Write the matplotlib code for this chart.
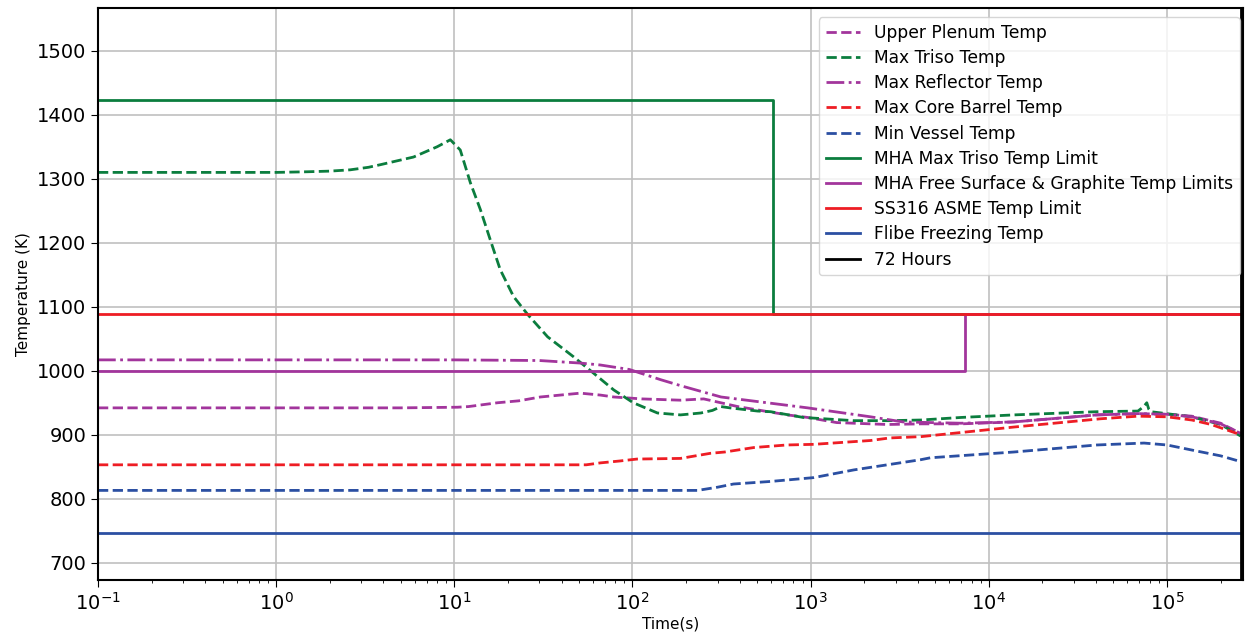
import matplotlib
matplotlib.use('Agg')
import matplotlib.pyplot as plt

# Colores de las curvas
GREEN = '#0b7d3e'
PURPLE = '#a2359c'
RED = '#ee1d24'
BLUE = '#2b4fa2'

# Datos (tiempo en s, temperatura en K)
plenum_t = [0.1, 1, 5, 10.4, 12, 17.5, 23, 30.4, 51, 66, 78.5, 113, 186, 251, 390, 430,
            740, 962, 1400, 2700, 4150, 6970, 13800, 40400, 68700, 100000, 138000, 200000, 259200]
plenum_T = [942, 942, 942, 943, 944, 950, 953, 959, 965, 962, 959, 956, 954, 956, 944, 942,
            931, 927, 919, 916, 917, 917, 920, 931, 933, 932, 929, 918, 902]

triso_t = [0.1, 1, 1.5, 2, 2.6, 3.3, 3.84, 5.9, 8.0, 9.5, 10.8, 12.3, 14.0, 15.9, 18.1, 21.5, 25.8,
           33.4, 46.6, 60, 78.5, 101, 138, 186, 242, 281, 314, 352, 504, 596, 910, 1745, 2780,
           4150, 6970, 13800, 40400, 68700, 74000, 77000, 79000, 81300, 138000, 200000, 259200]
triso_T = [1310, 1310, 1311, 1312, 1314, 1318, 1322, 1334, 1350, 1361, 1345, 1294, 1252, 1205, 1158,
           1116, 1088, 1053, 1022, 997, 970, 950, 934, 931, 934, 938, 944, 942, 937, 936, 927, 922,
           922, 923, 927, 931, 936, 937, 944, 950, 940, 936, 928, 916, 898]

refl_t = [0.1, 1, 10, 30, 51, 66, 96, 144, 190, 314, 962, 2170, 3300, 6970, 13800, 40400,
          68700, 100000, 138000, 200000, 259200]
refl_T = [1017, 1017, 1017, 1016, 1012, 1009, 1002, 986, 976, 959, 942, 928, 920, 918, 920, 931,
          933, 932, 928, 917, 902]

barrel_t = [0.1, 1, 10, 55, 66, 85, 106, 186, 274, 329, 480, 734, 1040, 2170, 2780, 4150,
            13800, 42600, 68700, 100000, 138000, 177000, 259200]
barrel_T = [853, 853, 853, 853, 856, 859, 862, 863, 871, 873, 880, 884, 885, 891, 895, 897,
            912, 925, 929, 928, 923, 916, 900]

vessel_t = [0.1, 1, 10, 100, 232, 300, 369, 596, 1040, 1745, 4150, 4700, 13800, 40400, 74300,
            100000, 150000, 200000, 259200]
vessel_T = [813, 813, 813, 813, 813, 818, 823, 827, 833, 845, 861, 864, 873, 884, 887,
            884, 874, 867, 858]

# Limites
triso_lim_t = [0.1, 612, 612, 259200]
triso_lim_T = [1423, 1423, 1089, 1089]
graph_lim_t = [0.1, 7330, 7330, 259200]
graph_lim_T = [1000, 1000, 1089, 1089]
ss316_lim = 1089
flibe_freeze = 747
hours_72 = 72 * 3600

fig = plt.figure(figsize=(12.48, 6.42), dpi=100)
ax = fig.add_axes([0.0785, 0.0966, 0.9175, 0.891])

ax.plot(plenum_t, plenum_T, '--', color=PURPLE, lw=2, label='Upper Plenum Temp')
ax.plot(triso_t, triso_T, '--', color=GREEN, lw=2, label='Max Triso Temp')
ax.plot(refl_t, refl_T, '-.', color=PURPLE, lw=2, label='Max Reflector Temp')
ax.plot(barrel_t, barrel_T, '--', color=RED, lw=2, label='Max Core Barrel Temp')
ax.plot(vessel_t, vessel_T, '--', color=BLUE, lw=2, label='Min Vessel Temp')
ax.plot(triso_lim_t, triso_lim_T, '-', color=GREEN, lw=2, label='MHA Max Triso Temp Limit')
ax.plot(graph_lim_t, graph_lim_T, '-', color=PURPLE, lw=2,
        label='MHA Free Surface & Graphite Temp Limits')
ax.axhline(ss316_lim, color=RED, lw=2, label='SS316 ASME Temp Limit')
ax.axhline(flibe_freeze, color=BLUE, lw=2, label='Flibe Freezing Temp')
ax.axvline(hours_72, color='black', lw=2, label='72 Hours')

ax.set_xscale('log')
ax.set_xlim(0.1, 2.67e5)
ax.set_ylim(673, 1567)
ax.grid(True, which='major', color='#c0c0c0', lw=1.2)
ax.tick_params(axis='both', which='major', labelsize=14, length=5)
ax.set_xlabel('Time(s)', fontsize=11, labelpad=2)
ax.set_ylabel('Temperature (K)', fontsize=11)
for s in ax.spines.values():
    s.set_linewidth(1.5)

ax.legend(loc='upper right', bbox_to_anchor=(1.0, 0.99), fontsize=12.3,
          framealpha=0.8, borderaxespad=0.2, labelspacing=0.42)

fig.savefig('out.png', dpi=100)
